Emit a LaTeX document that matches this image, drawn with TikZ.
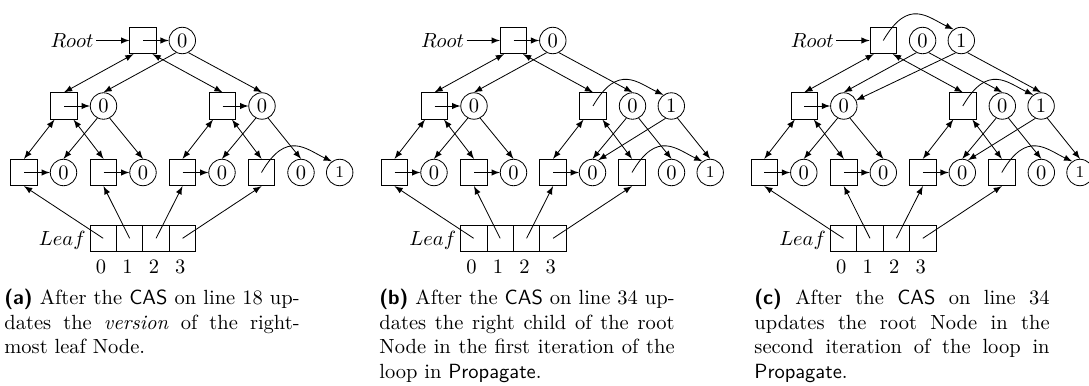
\documentclass[tikz,border=0pt]{standalone}
\usetikzlibrary{arrows}
\tikzset{
  tnode/.style={draw,minimum size=12.9pt,inner sep=0pt},
  ver/.style={draw,circle,minimum size=12.9pt,inner sep=0pt},
  cellbox/.style={draw,minimum size=12.9pt,inner sep=0pt},
  capt/.style={anchor=north west,inner sep=0pt,text width=144pt,align=justify}
}
\begin{document}
\begin{tikzpicture}[x=0.4878pt,y=0.4878pt,>=latex]
\useasboundingbox (0,0) rectangle (1089,-385);
% the part that all three states share
\foreach \p/\dx in {a/0,b/370.5,c/740.3}{
\begin{scope}[shift={(\dx,0)}]
  \node[tnode] (\p r) at (143,-40.5) {};
  \node[ver] (\p r0) at (182.3,-40.5) {0};
  \node[anchor=east,inner sep=1pt] (\p rl) at (96,-40.5) {$Root$};
  \node[tnode] (\p l) at (64,-106) {};
  \node[ver] (\p l0) at (103.5,-106) {0};
  \node[tnode] (\p m) at (222.5,-106) {};
  \node[ver] (\p m0) at (262,-106) {0};
  \foreach \i/\x in {0/24,1/103.5,2/182.5,3/261.5}{
    \node[tnode] (\p t\i) at (\x,-172.5) {};
    \node[ver] (\p v\i) at (\x+39.5,-172.5) {0};
  }
  \node[ver,font=\footnotesize] (\p v4) at (339.7,-172.5) {1};
  \foreach \i in {0,...,3}{
    \node[cellbox] (\p c\i) at (103.2+26.45*\i,-238.3) {};
    \node (\p n\i) at (101+26.45*\i,-267) {\i};
  }
  \node[anchor=east,inner sep=1pt] (\p ll) at (88,-240) {$Leaf$};
  \draw[->] (\p rl) -- (\p r);
  \draw[<->] (\p r.235) -- (\p l.north);
  \draw[<->] (\p r.305) -- (\p m.north);
  \draw[<->] (\p l.235) -- (\p t0.north);
  \draw[<->] (\p l.305) -- (\p t1.north);
  \draw[<->] (\p m.235) -- (\p t2.north);
  \draw[<->] (\p m.305) -- (\p t3.north);
  \draw[->] (\p r0.243) -- (\p l0.north);
  \draw[->] (\p r0.297) -- (\p m0.north);
  \draw[->] (\p l0.243) -- (\p v0.north);
  \draw[->] (\p l0.297) -- (\p v1.north);
  \draw[->] (\p m0.243) -- (\p v2.north);
  \draw[->] (\p m0.297) -- (\p v3.north);
  \draw[->] (\p l.center) -- (\p l0);
  \foreach \i in {0,1,2}
    \draw[->] (\p t\i.center) -- (\p v\i);
  \draw[->] (\p t3.center) .. controls +(60:50) and +(155:28) .. (\p v4.125);
  \foreach \i in {0,...,3}
    \draw[->] (\p c\i.center) -- (\p t\i.south);
\end{scope}
}
% (a)
\draw[->] (ar.center) -- (ar0);
\draw[->] (am.center) -- (am0);
% (b)
\begin{scope}[shift={(370.5,0)}]
  \node[ver] (bm1) at (300.8,-106) {1};
  \draw[->] (br.center) -- (br0);
  \draw[->] (bm.center) .. controls +(60:50) and +(155:28) .. (bm1.125);
  \draw[->] (bm1.245) -- (bv2.65);
  \draw[->] (bm1.297) -- (bv4.north);
\end{scope}
% (c)
\begin{scope}[shift={(740.3,0)}]
  \node[ver] (cr1) at (221,-40.5) {1};
  \node[ver] (cm1) at (300.8,-106) {1};
  \draw[->] (cr.center) .. controls +(60:50) and +(155:28) .. (cr1.125);
  \draw[->] (cr1.245) -- (cl0.25);
  \draw[->] (cr1.297) -- (cm1.north);
  \draw[->] (cm.center) .. controls +(60:50) and +(155:28) .. (cm1.125);
  \draw[->] (cm1.245) -- (cv2.65);
  \draw[->] (cm1.297) -- (cv4.north);
\end{scope}
% captions
\node[capt] (capa) at (4,-289) {{\sffamily\bfseries (a)} After the \textsf{CAS} on line 18 up-\linebreak dates the \emph{version} of the right-\linebreak most leaf Node.};
\node[capt] (capb) at (379,-289) {{\sffamily\bfseries (b)} After the \textsf{CAS} on line 34 up-\linebreak dates the right child of the root\linebreak Node in the first iteration of the\linebreak loop in \textsf{Propagate}.};
\node[capt] (capc) at (754,-289) {{\sffamily\bfseries (c)} After the \textsf{CAS} on line 34\linebreak updates the root Node in the\linebreak second iteration of the loop in\linebreak \textsf{Propagate}.};
\end{tikzpicture}
\end{document}
